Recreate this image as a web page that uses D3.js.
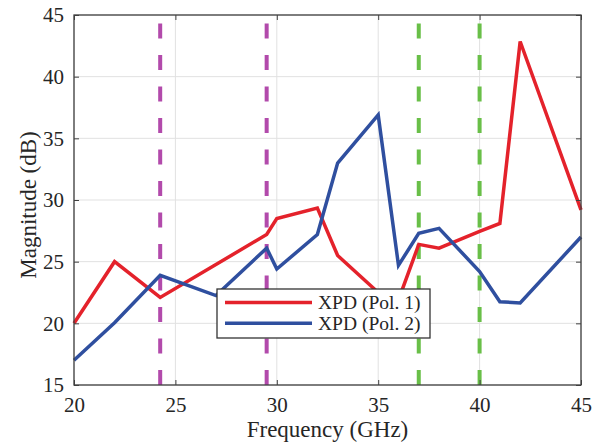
<!DOCTYPE html>
<meta charset="utf-8">
<script src="https://d3js.org/d3.v7.min.js"></script>
<style>
    body { margin: 0; background: #fff; }
</style>
<div id="my_dataviz"></div>
<script>
    // XPD curves
    var freqPol1 = [20, 22, 24.25, 29.5, 30, 32, 33, 35, 36, 37, 38, 40, 41, 42, 45];
    var xpdPol1 = [20.0, 25.0, 22.1, 27.2, 28.5, 29.35, 25.5, 22.5, 21.9, 26.4, 26.1, 27.45, 28.1, 42.85, 29.2];
    var freqPol2 = [20, 22, 24.25, 27, 29.5, 30, 32, 33, 35, 36, 37, 38, 40, 41, 42, 45];
    var xpdPol2 = [17.0, 20.05, 23.9, 22.25, 26.1, 24.4, 27.2, 33.0, 36.9, 24.7, 27.3, 27.7, 24.2, 21.75, 21.65, 27.0];

    // band edges (dashed markers)
    var magentaBands = [24.25, 29.5];
    var greenBands = [37, 40];

    var xTicks = [20, 25, 30, 35, 40, 45];
    var yTicks = [15, 20, 25, 30, 35, 40, 45];
    var legendLabels = ["XPD (Pol. 1)", "XPD (Pol. 2)"];
    var seriesColors = ["#e4222b", "#2f4f9f"];

    var serif = "'Liberation Serif', 'DejaVu Serif', 'Times New Roman', serif";

    var margin = { top: 15, right: 25, bottom: 59, left: 74 },
        width = 606 - margin.left - margin.right,
        height = 444 - margin.top - margin.bottom;

    var svg = d3.select("#my_dataviz")
        .append("svg")
        .attr("width", 606)
        .attr("height", 444)
        .append("g")
        .attr("transform", "translate(" + margin.left + "," + margin.top + ")");

    var x = d3.scaleLinear().domain([20, 45]).range([0, width]);
    var y = d3.scaleLinear().domain([15, 45]).range([height, 0]);

    // grid
    svg.append("g")
        .selectAll("line.vgrid")
        .data(xTicks)
        .enter().append("line")
        .attr("x1", function (d) { return x(d); })
        .attr("x2", function (d) { return x(d); })
        .attr("y1", 0).attr("y2", height)
        .attr("stroke", "#e1e1e1").attr("stroke-width", 1);
    svg.append("g")
        .selectAll("line.hgrid")
        .data(yTicks)
        .enter().append("line")
        .attr("x1", 0).attr("x2", width)
        .attr("y1", function (d) { return y(d); })
        .attr("y2", function (d) { return y(d); })
        .attr("stroke", "#e1e1e1").attr("stroke-width", 1);

    // dashed band markers
    function bandLines(vals, color) {
        svg.append("g")
            .selectAll("line")
            .data(vals)
            .enter().append("line")
            .attr("x1", function (d) { return x(d); })
            .attr("x2", function (d) { return x(d); })
            .attr("y1", y(15)).attr("y2", y(45))
            .attr("stroke", color)
            .attr("stroke-width", 4)
            .attr("stroke-dasharray", "15,16.5");
    }
    bandLines(magentaBands, "#b24aab");
    bandLines(greenBands, "#69bf48");

    // curves
    var line = d3.line()
        .x(function (d) { return x(d[0]); })
        .y(function (d) { return y(d[1]); });

    var series = [d3.zip(freqPol1, xpdPol1), d3.zip(freqPol2, xpdPol2)];
    series.forEach(function (s, i) {
        svg.append("path")
            .datum(s)
            .attr("fill", "none")
            .attr("stroke", seriesColors[i])
            .attr("stroke-width", 3.5)
            .attr("stroke-linejoin", "miter")
            .attr("d", line);
    });

    // axes with inward ticks on all four sides
    var axisColor = "#404040";
    function styleAxis(g) {
        g.attr("font-family", serif).attr("font-size", 21);
        g.select(".domain").remove();
        g.selectAll(".tick line").attr("stroke", axisColor);
        g.selectAll(".tick text").attr("fill", "#262626");
    }
    svg.append("g")
        .attr("transform", "translate(0," + height + ")")
        .call(d3.axisBottom(x).tickValues(xTicks).tickSize(-5).tickPadding(12))
        .call(styleAxis);
    svg.append("g")
        .call(d3.axisLeft(y).tickValues(yTicks).tickSize(-5).tickPadding(10))
        .call(styleAxis);
    svg.append("g")
        .call(d3.axisTop(x).tickValues(xTicks).tickSize(-5).tickFormat(""))
        .call(styleAxis);
    svg.append("g")
        .attr("transform", "translate(" + width + ",0)")
        .call(d3.axisRight(y).tickValues(yTicks).tickSize(-5).tickFormat(""))
        .call(styleAxis);

    svg.append("rect")
        .attr("width", width).attr("height", height)
        .attr("fill", "none")
        .attr("stroke", axisColor)
        .attr("stroke-width", 1.3);

    // axis labels
    svg.append("text")
        .attr("x", width / 2)
        .attr("y", height + 52)
        .attr("text-anchor", "middle")
        .attr("font-family", serif)
        .attr("font-size", 23)
        .attr("fill", "#262626")
        .text("Frequency (GHz)");
    svg.append("text")
        .attr("transform", "translate(-38," + (height / 2 + 5) + ")rotate(-90)")
        .attr("text-anchor", "middle")
        .attr("font-family", serif)
        .attr("font-size", 23)
        .attr("fill", "#262626")
        .text("Magnitude (dB)");

    // legend
    var legend = svg.append("g")
        .attr("transform", "translate(" + (217 - margin.left) + "," + (289 - margin.top) + ")");
    legend.append("rect")
        .attr("width", 213).attr("height", 49)
        .attr("fill", "#fff")
        .attr("stroke", "#333")
        .attr("stroke-width", 1.3);
    legendLabels.forEach(function (lab, i) {
        var ly = 13.5 + i * 20.8;
        legend.append("line")
            .attr("x1", 8).attr("x2", 95)
            .attr("y1", ly).attr("y2", ly)
            .attr("stroke", seriesColors[i])
            .attr("stroke-width", 3.5);
        legend.append("text")
            .attr("x", 101)
            .attr("y", ly + 6.5)
            .attr("font-family", serif)
            .attr("font-size", 19.5)
            .attr("fill", "#262626")
            .text(lab);
    });
</script>
